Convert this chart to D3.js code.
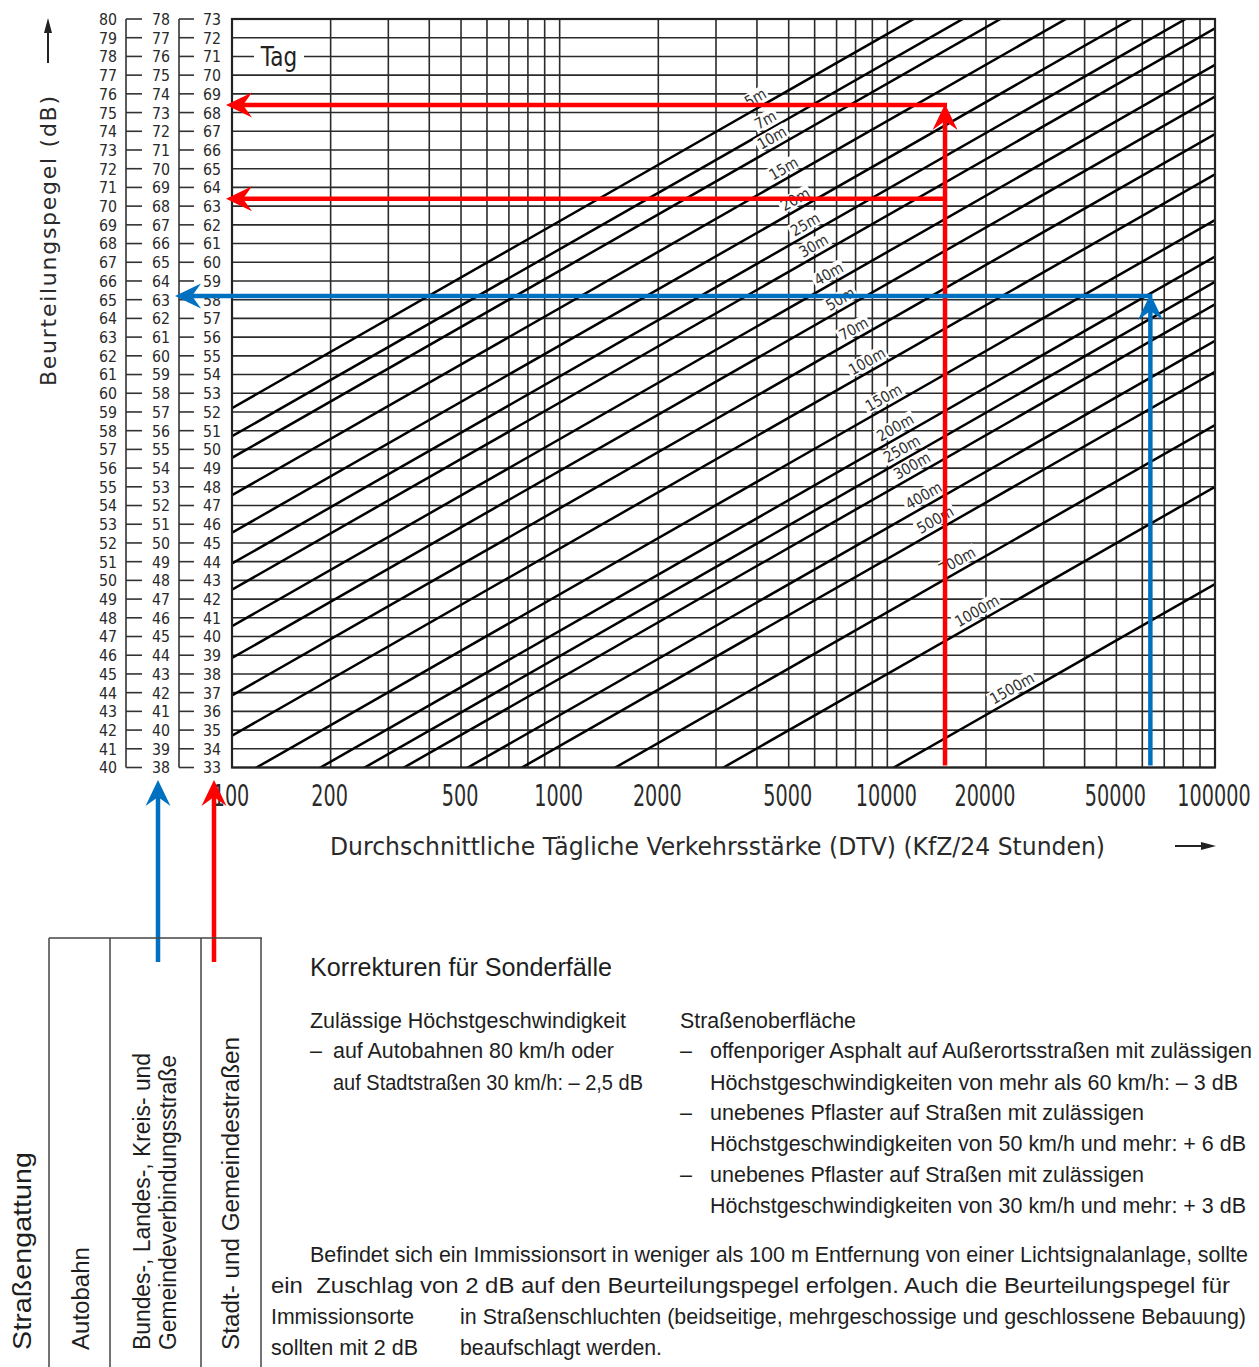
<!DOCTYPE html>
<html><head><meta charset="utf-8">
<script src="https://cdn.jsdelivr.net/npm/d3@7"></script>
<style>body{margin:0;background:#fff}</style>
</head><body>
<svg id="c" width="1259" height="1367"></svg>
<script>
// ---------------- DATA ----------------
const dtvTickValues = [100, 200, 500, 1000, 2000, 5000, 10000, 20000, 50000, 100000];
const dtvTickLabels = ["100", "200", "500", "1000", "2000", "5000", "10000", "20000", "50000", "100000"];
// road-type scales: offset of column relative to Autobahn column
const columnOffsets = [0, -2, -7];
// distance lines (Tag)
const distanceLabels = ["5m","7m","10m","15m","20m","25m","30m","40m","50m","70m","100m","150m","200m","250m","300m","400m","500m","700m","1000m","1500m"];
// Beurteilungspegel (Autobahn scale, dB) of each line at DTV = 10000
const levelAt10000 = [79.2,77.7,76.55,74.55,72.55,70.9,69.5,67.55,65.85,63.85,61.7,59.25,57.3,55.95,54.75,52.8,51.15,48.3,45.0,39.8];
// DTV where each distance label sits
const labelDTV = [3950,4240,4440,4820,5230,5610,5950,6610,7180,7880,8660,9730,10560,11070,11880,12890,13990,16300,18760,23990];
// example readings
const redDTV = 15000, redLevelsStadt = [68.4, 63.4];
const blueDTV = 63500, blueLevelBundes = 63.2;

const roadTypes = ["Autobahn", ["Bundes-, Landes-, Kreis- und", "Gemeindeverbindungsstraße"], "Stadt- und Gemeindestraßen"];

// ---------------- SETUP ----------------
const svg = d3.select("#c");
const ISO = '"DejaVu Sans", "Noto Sans", sans-serif';
const SANS = '"Liberation Sans", Arial, sans-serif';
const x = d3.scaleLog().domain([100, 100000]).range([232, 1215]);
const y = d3.scaleLinear().domain([40, 80]).range([767.5, 19]);
const [x0, x1] = x.range(), [yb, yt] = y.range();
const lineLevel = (i, dtv) => levelAt10000[i] + 10 * Math.log10(dtv / 10000);
const RED = "#ff0000", BLUE = "#0070c0";

svg.append("rect").attr("width", 1259).attr("height", 1367).attr("fill", "#fff");
svg.append("defs").append("clipPath").attr("id", "plotclip")
  .append("rect").attr("x", x0).attr("y", yt).attr("width", x1 - x0).attr("height", yb - yt);

// grid
const grid = svg.append("g").attr("stroke", "#2b2b2b").attr("stroke-width", 1.6);
grid.selectAll(".v").data(x.ticks()).join("line")
  .attr("x1", d => x(d)).attr("x2", d => x(d)).attr("y1", yt).attr("y2", yb);
grid.selectAll(".h").data(y.ticks(40)).join("line")
  .attr("x1", x0).attr("x2", x1).attr("y1", d => y(d)).attr("y2", d => y(d));

// diagonal distance lines
const diag = svg.append("g").attr("clip-path", "url(#plotclip)");
diag.selectAll("line").data(levelAt10000).join("line")
  .attr("x1", x(100)).attr("y1", (d, i) => y(lineLevel(i, 100)))
  .attr("x2", x(100000)).attr("y2", (d, i) => y(lineLevel(i, 100000)))
  .attr("stroke", "#000").attr("stroke-width", 2.5);

// distance labels
const ang = Math.atan2(y(40) - y(50), x(100000) - x(10000)) * 180 / Math.PI;
const lab = svg.append("g");
distanceLabels.forEach((t, i) => {
  const px = x(labelDTV[i]), py = y(lineLevel(i, labelDTV[i])) - 12;
  const g = lab.append("g").attr("transform", `translate(${px},${py}) rotate(${-ang})`);
  const r = g.append("rect").attr("fill", "#fff");
  const tx = g.append("text").text(t).attr("font-family", ISO).attr("font-size", 15.5)
    .attr("text-anchor", "middle").attr("dy", "0.36em").attr("fill", "#303030")
    .attr("transform", "scale(0.88,1)");
  const w = tx.node().getComputedTextLength() * 0.88 + 4;
  r.attr("x", -w / 2).attr("y", -7.5).attr("width", w).attr("height", 15);
});

// Tag label
svg.append("rect").attr("x", 254).attr("y", y(78) - 13).attr("width", 50).attr("height", 26).attr("fill", "#fff");
svg.append("text").text("Tag").attr("font-family", ISO).attr("font-size", 27).attr("fill", "#222")
  .attr("text-anchor", "middle").attr("dy", "0.36em")
  .attr("transform", `translate(279,${y(78)}) scale(0.8,1)`);

// frame
svg.append("rect").attr("x", x0).attr("y", yt).attr("width", x1 - x0).attr("height", yb - yt)
  .attr("fill", "none").attr("stroke", "#222").attr("stroke-width", 2.2);

// left level scales
const levels = y.ticks(40);
const colRight = [117, 170, 221];
columnOffsets.forEach((off, c) => {
  svg.append("g").selectAll("text").data(levels).join("text")
    .text(d => d + off)
    .attr("font-family", ISO).attr("font-size", 16.5).attr("fill", "#2a2a2a")
    .attr("text-anchor", "end").attr("dy", "0.36em")
    .attr("transform", d => `translate(${colRight[c]},${y(d)}) scale(0.86,1)`);
});
[[126, 142], [179, 194]].forEach(([bx, ex]) => {
  const g = svg.append("g").attr("stroke", "#333").attr("stroke-width", 1.6);
  g.append("line").attr("x1", bx).attr("x2", bx).attr("y1", y(80)).attr("y2", y(40));
  g.selectAll(".t").data(levels).join("line")
    .attr("x1", bx).attr("x2", ex).attr("y1", d => y(d)).attr("y2", d => y(d));
});

// x tick labels
svg.append("g").selectAll("text").data(dtvTickValues).join("text")
  .text((d, i) => dtvTickLabels[i])
  .attr("font-family", ISO).attr("font-size", 30).attr("fill", "#2a2a2a")
  .attr("text-anchor", "middle").attr("dy", "0.36em")
  .attr("transform", d => `translate(${x(d) - 1},795) scale(0.64,1)`);

// axis titles
svg.append("text").text("Durchschnittliche Tägliche Verkehrsstärke (DTV) (KfZ/24 Stunden)")
  .attr("font-family", ISO).attr("font-size", 25).attr("fill", "#2a2a2a")
  .attr("x", 330).attr("y", 846).attr("dy", "0.36em")
  .attr("textLength", 775).attr("lengthAdjust", "spacingAndGlyphs");
svg.append("text").text("Beurteilungspegel (dB)")
  .attr("font-family", ISO).attr("font-size", 22).attr("fill", "#2a2a2a")
  .attr("text-anchor", "start").attr("dy", "0.36em")
  .attr("transform", "translate(48,386) rotate(-90)")
  .attr("textLength", 290).attr("lengthAdjust", "spacing");
// small axis arrows
svg.append("line").attr("x1", 48).attr("x2", 48).attr("y1", 63).attr("y2", 28).attr("stroke", "#222").attr("stroke-width", 2);
svg.append("path").attr("d", "M48,18 L44,33 L52,33 Z").attr("fill", "#222");
svg.append("line").attr("x1", 1175).attr("x2", 1205).attr("y1", 846).attr("y2", 846).attr("stroke", "#222").attr("stroke-width", 2);
svg.append("path").attr("d", "M1216,846 L1201,842 L1201,850 Z").attr("fill", "#222");

// ---------------- reading arrows ----------------
function arrow(x1_, y1_, x2_, y2_, color, head) {
  const dx = x2_ - x1_, dy = y2_ - y1_, len = Math.hypot(dx, dy);
  const ux = dx / len, uy = dy / len, px = -uy, py = ux;
  const L = 26, Wd = 12.5, N = 17;
  const ex = head ? x2_ - ux * N : x2_, ey = head ? y2_ - uy * N : y2_;
  svg.append("line").attr("x1", x1_).attr("y1", y1_).attr("x2", ex).attr("y2", ey)
    .attr("stroke", color).attr("stroke-width", 4.5);
  if (head) {
    const pts = [[x2_, y2_], [x2_ - ux * L + px * Wd, y2_ - uy * L + py * Wd],
      [x2_ - ux * N, y2_ - uy * N], [x2_ - ux * L - px * Wd, y2_ - uy * L - py * Wd]];
    svg.append("path").attr("d", "M" + pts.map(p => p.join(",")).join("L") + "Z").attr("fill", color);
  }
}
const xr = x(redDTV);
const yr1 = y(redLevelsStadt[0] - columnOffsets[2]), yr2 = y(redLevelsStadt[1] - columnOffsets[2]);
arrow(xr, yb - 2, xr, yr1 - 1, RED, true);
arrow(xr + 2, yr1, 226, yr1, RED, true);
arrow(xr + 2, yr2, 226, yr2, RED, true);
const xbl = x(blueDTV), ybl = y(blueLevelBundes - columnOffsets[1]);
arrow(xbl, yb - 2, xbl, ybl - 2, BLUE, true);
arrow(xbl + 2, ybl, 175, ybl, BLUE, true);
arrow(158, 962, 158, 780, BLUE, true);
arrow(214, 962, 214, 780, RED, true);

// ---------------- road type table ----------------
const tb = svg.append("g").attr("stroke", "#444").attr("stroke-width", 1.5);
tb.append("line").attr("x1", 49).attr("x2", 262).attr("y1", 938).attr("y2", 938);
[49, 110, 201, 261].forEach(v => tb.append("line").attr("x1", v).attr("x2", v).attr("y1", 938).attr("y2", 1367));
function vtext(t, cx, len, fs) {
  svg.append("text").text(t).attr("font-family", SANS).attr("font-size", fs).attr("fill", "#1e1e1e")
    .attr("dy", "0.35em").attr("transform", `translate(${cx},1350) rotate(-90)`)
    .attr("textLength", len).attr("lengthAdjust", "spacingAndGlyphs");
}
vtext("Straßengattung", 22, 198, 26);
vtext(roadTypes[0], 81, 103, 23);
vtext(roadTypes[1][0], 142, 297, 23);
vtext(roadTypes[1][1], 168, 295, 23);
vtext(roadTypes[2], 231, 313, 23);

// ---------------- corrections text ----------------
const textLines = [
  ["Korrekturen für Sonderfälle", 310, 967, 302, 25],
  ["Zulässige Höchstgeschwindigkeit", 310, 1020, 316, 21.5],
  ["–", 310, 1050, 12, 21.5],
  ["auf Autobahnen 80 km/h oder", 333, 1050, 281, 21.5],
  ["auf Stadtstraßen 30 km/h: – 2,5 dB", 333, 1082, 310, 21.5],
  ["Straßenoberfläche", 680, 1020, 176, 21.5],
  ["–", 680, 1050, 12, 21.5],
  ["offenporiger Asphalt auf Außerortsstraßen mit zulässigen", 710, 1050, 542, 21.5],
  ["Höchstgeschwindigkeiten von mehr als 60 km/h: – 3 dB", 710, 1082, 528, 21.5],
  ["–", 680, 1112, 12, 21.5],
  ["unebenes Pflaster auf Straßen mit zulässigen", 710, 1112, 434, 21.5],
  ["Höchstgeschwindigkeiten von 50 km/h und mehr: + 6 dB", 710, 1143, 536, 21.5],
  ["–", 680, 1174, 12, 21.5],
  ["unebenes Pflaster auf Straßen mit zulässigen", 710, 1174, 434, 21.5],
  ["Höchstgeschwindigkeiten von 30 km/h und mehr: + 3 dB", 710, 1205, 536, 21.5],
  ["Befindet sich ein Immissionsort in weniger als 100 m Entfernung von einer Lichtsignalanlage, sollte", 310, 1254, 938, 21.5],
  ["ein  Zuschlag von 2 dB auf den Beurteilungspegel erfolgen. Auch die Beurteilungspegel für", 271, 1285, 959, 21.5],
  ["Immissionsorte", 271, 1316, 143, 21.5],
  ["in Straßenschluchten (beidseitige, mehrgeschossige und geschlossene Bebauung)", 460, 1316, 786, 21.5],
  ["sollten mit 2 dB", 271, 1347, 147, 21.5],
  ["beaufschlagt werden.", 460, 1347, 202, 21.5]
];
svg.append("g").selectAll("text").data(textLines).join("text")
  .text(d => d[0]).attr("x", d => d[1]).attr("y", d => d[2]).attr("dy", "0.35em")
  .attr("font-family", SANS).attr("font-size", d => d[4]).attr("fill", "#1e1e1e")
  .attr("textLength", d => d[3]).attr("lengthAdjust", "spacingAndGlyphs")
  .attr("xml:space", "preserve").style("white-space", "pre");
</script>
</body></html>
